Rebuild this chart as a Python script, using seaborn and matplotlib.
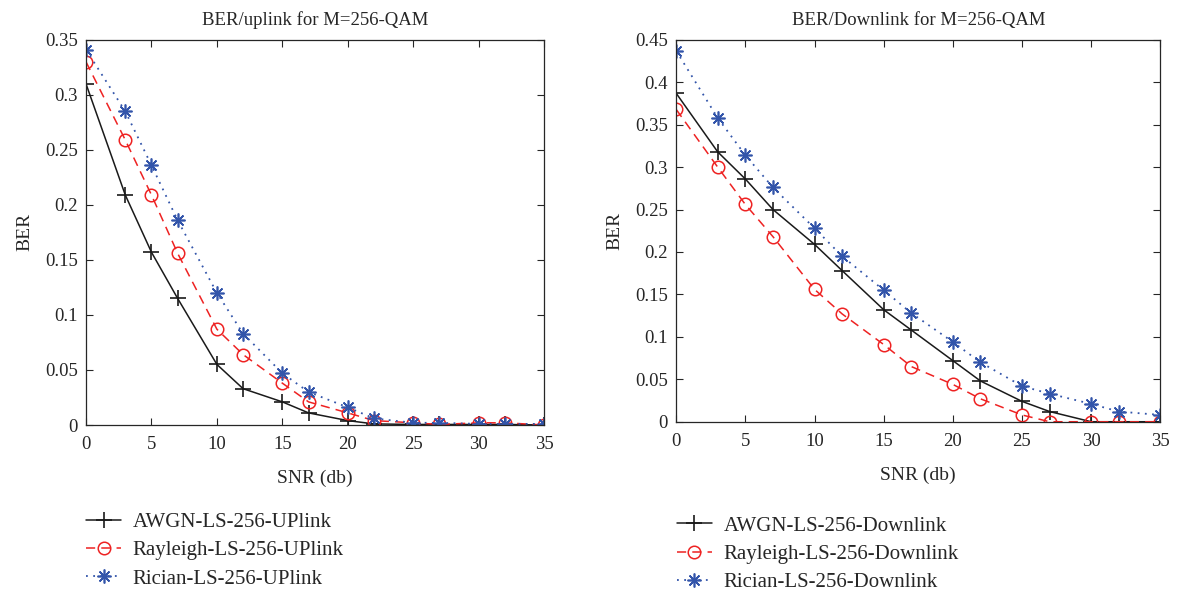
import numpy as np
import pandas as pd
import matplotlib
matplotlib.use("Agg")
import matplotlib.pyplot as plt
import seaborn as sns

snr = [0, 3, 5, 7, 10, 12, 15, 17, 20, 22, 25, 27, 30, 32, 35]

up_awgn = [0.310, 0.209, 0.157, 0.115, 0.055, 0.033, 0.021, 0.011, 0.004, 0.001, 0.0005, 0.0005, 0.0005, 0.0005, 0.0]
up_rayleigh = [0.330, 0.259, 0.209, 0.156, 0.087, 0.064, 0.038, 0.021, 0.011, 0.004, 0.002, 0.0005, 0.002, 0.002, 0.0]
up_rician = [0.341, 0.285, 0.236, 0.186, 0.120, 0.083, 0.047, 0.030, 0.016, 0.006, 0.002, 0.002, 0.001, 0.001, 0.001]

down_awgn = [0.387, 0.318, 0.286, 0.250, 0.209, 0.178, 0.132, 0.108, 0.072, 0.048, 0.024, 0.012, 0.0, 0.0, 0.0]
down_rayleigh = [0.368, 0.300, 0.256, 0.218, 0.156, 0.127, 0.091, 0.065, 0.044, 0.027, 0.008, 0.0, 0.0, 0.0, 0.0]
down_rician = [0.437, 0.358, 0.314, 0.276, 0.228, 0.195, 0.155, 0.128, 0.094, 0.070, 0.042, 0.033, 0.021, 0.012, 0.008]

up_labels = ["AWGN-LS-256-UPlink", "Rayleigh-LS-256-UPlink", "Rician-LS-256-UPlink"]
down_labels = ["AWGN-LS-256-Downlink", "Rayleigh-LS-256-Downlink", "Rician-LS-256-Downlink"]

sns.set_style("ticks")
plt.rcParams["font.family"] = ["Liberation Serif", "DejaVu Serif"]
plt.rcParams["xtick.direction"] = "in"
plt.rcParams["ytick.direction"] = "in"

colors = ["#1a1a1a", "#ee2222", "#3355aa"]
styles = [dict(ls="-", marker="+", ms=11, mew=1.2, mfc="none", lw=1.1),
          dict(ls=(0, (6, 4)), marker="o", ms=9, mew=1.1, mfc="none", lw=1.1),
          dict(ls=(0, (1, 3)), marker=(8, 2, 0), ms=10, mew=1.2, lw=1.3)]

fig = plt.figure(figsize=(11.78, 5.94), dpi=100)
ax1 = fig.add_axes([0.073, 0.2845, 0.389, 0.6485])
ax2 = fig.add_axes([0.574, 0.290, 0.411, 0.643])


def draw(ax, series, labels, title, ymax, yticks, ylabels, legend_anchor):
    df = pd.DataFrame({"SNR": snr * 3,
                       "BER": sum(series, []),
                       "curve": sum([[l] * len(snr) for l in labels], [])})
    for i, lab in enumerate(labels):
        sub = df[df["curve"] == lab]
        sns.lineplot(data=sub, x="SNR", y="BER", ax=ax, color=colors[i],
                     markeredgecolor=colors[i], label=lab, legend=False,
                     **styles[i])
    ax.set_xlim(0, 35)
    ax.set_ylim(0, ymax)
    ax.set_xticks([0, 5, 10, 15, 20, 25, 30, 35])
    ax.set_yticks(yticks)
    ax.set_yticklabels(ylabels)
    ax.tick_params(top=True, right=True, labelsize=13.5, length=5, width=0.8)
    ax.tick_params(axis="x", pad=8)
    ax.tick_params(axis="y", pad=6)
    for s in ax.spines.values():
        s.set_linewidth(0.9)
    ax.set_title(title, fontsize=13.5, pad=11)
    ax.set_xlabel("SNR (db)", fontsize=14, labelpad=12)
    ax.set_ylabel("BER", fontsize=14, labelpad=8)
    h, l = ax.get_legend_handles_labels()
    fig.legend(h, l, loc="upper left", bbox_to_anchor=legend_anchor,
               frameon=False, fontsize=15, handlelength=1.7,
               labelspacing=0.42, handletextpad=0.55)


draw(ax1, [up_awgn, up_rayleigh, up_rician], up_labels,
     "BER/uplink for M=256-QAM", 0.35,
     [0, 0.05, 0.1, 0.15, 0.2, 0.25, 0.3, 0.35],
     ["0", "0.05", "0.1", "0.15", "0.2", "0.25", "0.3", "0.35"],
     (0.057, 0.169))
draw(ax2, [down_awgn, down_rayleigh, down_rician], down_labels,
     "BER/Downlink for M=256-QAM", 0.45,
     [0, 0.05, 0.1, 0.15, 0.2, 0.25, 0.3, 0.35, 0.4, 0.45],
     ["0", "0.05", "0.1", "0.15", "0.2", "0.25", "0.3", "0.35", "0.4", "0.45"],
     (0.5586, 0.163))

fig.savefig("out.png", dpi=100)
